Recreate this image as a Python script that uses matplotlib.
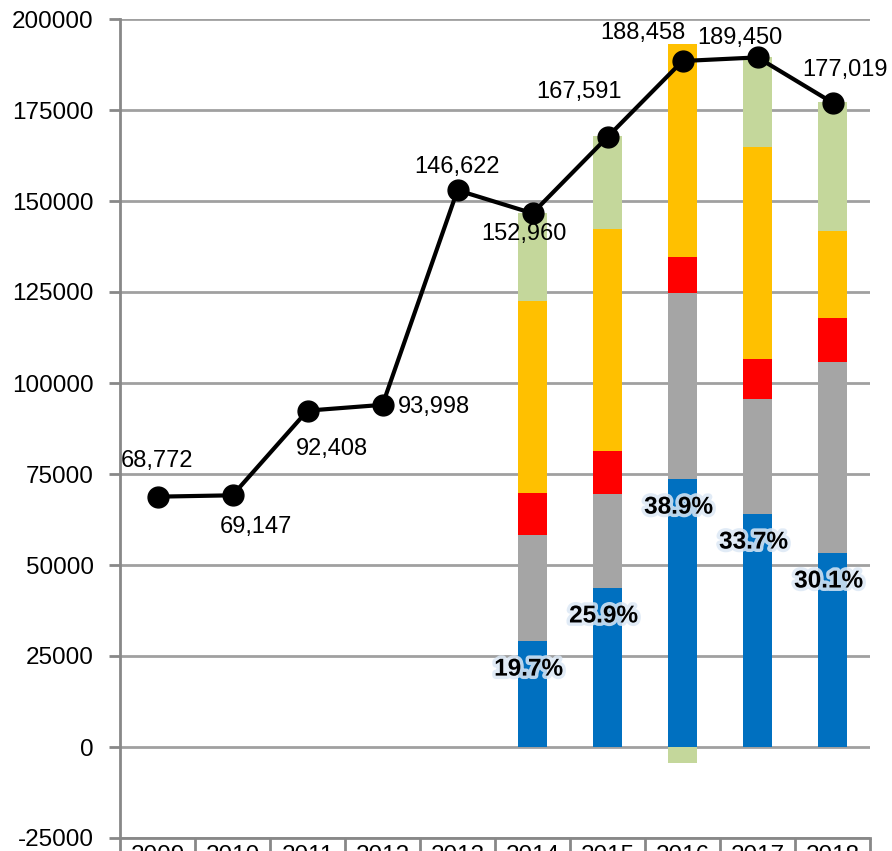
"""Stacked bars with a total line, 2009-2018"""
import matplotlib
matplotlib.use("Agg")
import matplotlib.pyplot as plt
import matplotlib.patheffects as pe
import numpy as np

plt.rcParams['font.family'] = ['Liberation Sans', 'DejaVu Sans']
plt.rcParams['axes.unicode_minus'] = False

years = ['2009', '2010', '2011', '2012', '2013', '2014', '2015', '2016', '2017', '2018']
totals = [68772, 69147, 92408, 93998, 152960, 146622, 167591, 188458, 189450, 177019]
# labels as printed on the original chart (2013/2014 are swapped there)
total_labels = ['68,772', '69,147', '92,408', '93,998', '146,622',
                '152,960', '167,591', '188,458', '189,450', '177,019']

# stacked parts, only 2014-2018
bar_years = ['2014', '2015', '2016', '2017', '2018']
blue = [29100, 43700, 73600, 64000, 53300]
gray = [29100, 25800, 51100, 31600, 52500]
red = [11600, 11800, 9900, 11000, 12100]
orange = [52700, 61000, 58500, 58200, 23900]
green = [24200, 25600, -4400, 24800, 35400]
share_labels = ['19.7%', '25.9%', '38.9%', '33.7%', '30.1%']

# label offsets in pixels (dx, dy) from each line point
label_offsets = [(0, 36), (23, -32), (24, -38), (51, -2), (-1, 23),
                 (-9, -21), (-28, 45), (-40, 28), (-18, 19), (13, 33)]

fig = plt.figure(figsize=(8.92, 8.51), dpi=100)
ax = fig.add_axes([120 / 892, 13 / 851, 750 / 892, 819 / 851])

x = np.arange(len(years))
bx = np.array([years.index(y) for y in bar_years])
w = 0.39

blue_a = np.array(blue)
gray_a = np.array(gray)
red_a = np.array(red)
orange_a = np.array(orange)
green_a = np.array(green)

ax.bar(bx, blue_a, w, color='#0070C0', zorder=2)
ax.bar(bx, gray_a, w, bottom=blue_a, color='#A5A5A5', zorder=2)
b2 = blue_a + gray_a
ax.bar(bx, red_a, w, bottom=b2, color='#FF0000', zorder=2)
b3 = b2 + red_a
ax.bar(bx, orange_a, w, bottom=b3, color='#FFC000', zorder=2)
b4 = b3 + orange_a
# negative green part goes below zero
green_bottom = np.where(green_a < 0, 0, b4)
ax.bar(bx, green_a, w, bottom=green_bottom, color='#C4D79B', zorder=2)

ax.plot(x, totals, color='black', lw=3, marker='o', ms=15, zorder=4)

for i in range(len(years)):
    ax.annotate(total_labels[i], (x[i], totals[i]), xytext=label_offsets[i],
                textcoords='offset pixels', ha='center', va='center',
                fontsize=17, zorder=5)

for j in range(len(bar_years)):
    ax.annotate(share_labels[j], (bx[j], blue_a[j]), xytext=(-4, -28),
                textcoords='offset pixels', ha='center', va='center',
                fontsize=17.5, fontweight='bold', zorder=5,
                path_effects=[pe.withStroke(linewidth=5, foreground='#dce8f5', alpha=0.85)])

ax.set_xlim(-0.5, len(years) - 0.5)
ax.set_ylim(-25000, 200000)
ax.set_yticks(np.arange(-25000, 200001, 25000))
ax.tick_params(axis='y', labelsize=17.5, length=8, width=2, color='#888888', pad=11)
ax.yaxis.grid(True, color='#A0A0A0', lw=2, zorder=0)
ax.set_axisbelow(True)

ax.set_xticks(x)
ax.set_xticklabels(years)
ax.set_xticks(np.arange(-0.5, len(years)), minor=True)
ax.tick_params(axis='x', which='major', length=0, labelsize=17.5, pad=5)
ax.tick_params(axis='x', which='minor', length=12, width=2, color='#888888')

for s in ['top', 'right']:
    ax.spines[s].set_visible(False)
for s in ['left', 'bottom']:
    ax.spines[s].set_color('#888888')
    ax.spines[s].set_linewidth(2)

fig.savefig('out.png', dpi=100)
